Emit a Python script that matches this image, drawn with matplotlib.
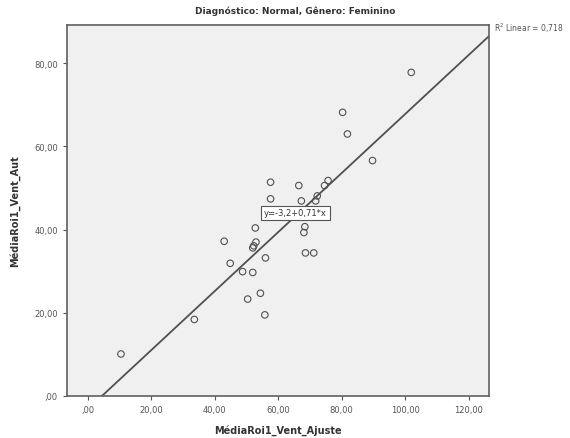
import numpy as np
import matplotlib
matplotlib.use('Agg')
from matplotlib import pyplot as plt

# scatter data: adjusted vs. automatic mean ROI values
x_ajuste = [10.5, 33.6, 43.0, 44.9, 48.8, 50.4, 52.0, 52.0, 52.3, 52.8, 53.0,
            54.4, 55.8, 56.0, 57.6, 57.6, 66.5, 67.3, 68.1, 68.4, 68.6, 71.2,
            71.8, 72.3, 74.6, 75.7, 80.3, 81.8, 89.7, 101.9]
y_aut = [10.1, 18.4, 37.2, 31.9, 29.9, 23.3, 29.7, 35.6, 36.1, 40.4, 37.0,
         24.7, 19.5, 33.2, 51.4, 47.4, 50.6, 46.9, 39.3, 40.7, 34.4, 34.4,
         46.9, 48.1, 50.6, 51.8, 68.2, 63.0, 56.6, 77.8]

intercept = -3.2
slope = 0.71
r2_label = '0,718'

xticks = [0, 20, 40, 60, 80, 100, 120]
yticks = [0, 20, 40, 60, 80]


def fmt(v):
    s = f"{v:.2f}".replace('.', ',')
    return s[1:] if s.startswith('0') else s


def main():
    fig = plt.figure(figsize=(5.7, 4.39), dpi=100)
    ax = fig.add_axes([0.1175, 0.0957, 0.7405, 0.8451])
    ax.set_facecolor('#f0f0f0')

    xmin, xmax = -6.5, 126.4
    ymin, ymax = 0, 89.2

    xs = np.array([xmin, xmax])
    ax.plot(xs, intercept + slope * xs, color='#505050', lw=1.3, zorder=2)
    ax.scatter(x_ajuste, y_aut, s=22, facecolors='none', edgecolors='#505050',
               linewidths=0.8, zorder=3)

    ax.set_xlim(xmin, xmax)
    ax.set_ylim(ymin, ymax)
    ax.set_xticks(xticks)
    ax.set_yticks(yticks)
    ax.set_xticklabels([fmt(v) for v in xticks])
    ax.set_yticklabels([fmt(v) for v in yticks])
    ax.tick_params(labelsize=6, colors='#555555', length=3)
    for sp in ax.spines.values():
        sp.set_color('#606060')
        sp.set_linewidth(1.2)

    ax.set_xlabel('MédiaRoi1_Vent_Ajuste', fontsize=7, fontweight='bold',
                  color='#333333', labelpad=7)
    ax.set_ylabel('MédiaRoi1_Vent_Aut', fontsize=7, fontweight='bold',
                  color='#333333', labelpad=10)
    fig.text(0.5185, 0.975, 'Diagnóstico: Normal, Gênero: Feminino',
             ha='center', va='center', fontsize=6.5, fontweight='bold',
             color='#333333')

    ax.text(65.4, 44.0, 'y=-3,2+0,71*x', ha='center', va='center', fontsize=6,
            color='#333333', zorder=4,
            bbox=dict(boxstyle='square,pad=0.35', fc='white', ec='#555555', lw=0.8))
    ax.text(xmax + 1.5, ymax - 0.5, 'R$^2$ Linear = ' + r2_label,
            ha='left', va='center', fontsize=5.5, color='#555555', clip_on=False)

    fig.savefig('out.png', dpi=100)


if __name__ == '__main__':
    main()
